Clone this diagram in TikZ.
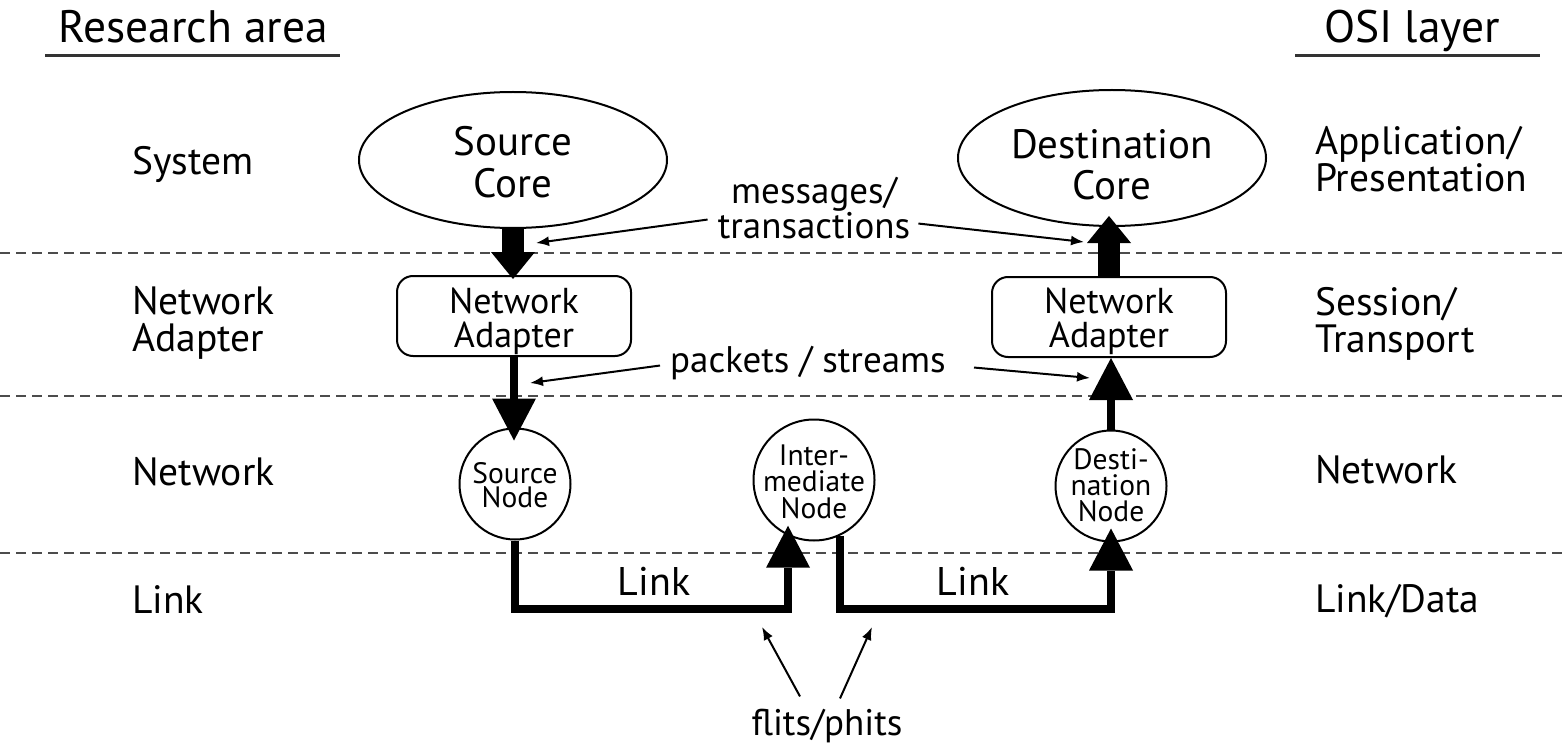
\documentclass[tikz,border=0pt]{standalone}
\usepackage{fontspec}
\setmainfont{PT Sans}
\usetikzlibrary{shapes.geometric,arrows.meta}
\newcommand{\fsz}[2]{\fontsize{#1}{#2}\selectfont}
\begin{document}
\begin{tikzpicture}[x=1pt,y=-1pt,
  lbl/.style={font=\fsz{39.5}{37}, align=left, anchor=base west, inner sep=0pt},
  hdr/.style={font=\fsz{45.5}{48}, anchor=base, inner sep=0pt},
  uline/.style={line width=3pt, black!80},
  layer/.style={dash pattern=on 10pt off 6pt, line width=2.6pt, black!70},
  core/.style={ellipse, draw, line width=2pt, minimum width=308pt, minimum height=136pt, inner sep=0pt},
  coretext/.style={font=\fsz{41}{41}, align=center, anchor=base, inner sep=0pt},
  adapter/.style={draw, rounded corners=16pt, line width=2pt, minimum width=234pt, minimum height=80pt, inner sep=0pt},
  adtext/.style={font=\fsz{36}{34}, align=center, anchor=base, inner sep=0pt},
  router/.style={circle, draw, line width=2pt, inner sep=0pt},
  rtext/.style={font=\fsz{29.5}{#1}, align=center, anchor=base, inner sep=0pt},
  ann/.style={font=\fsz{37}{35}, align=center, anchor=base, inner sep=0pt},
  linklbl/.style={font=\fsz{40}{40}, anchor=base, inner sep=0pt},
  bigflow/.style={line width=22pt, -{Triangle[width=44pt,length=27pt,line width=0pt]}},
  flow/.style={line width=8pt, line join=miter, -{Triangle[width=44pt,length=42pt,line width=0pt]}},
  thin/.style={line width=2pt, -{Latex[length=13pt,width=10pt]}},
]
\useasboundingbox (0,0) rectangle (1563,746);

% headers
\node[hdr] (ra) at (193,43) {Research area};
\draw[uline] (45,56) -- (340,56);
\node[hdr] (osi) at (1412,43) {OSI layer};
\draw[uline] (1295,56) -- (1540,56);

% layer separators
\draw[layer] (0,253) -- (1563,253);
\draw[layer] (0,396) -- (1563,396);
\draw[layer] (0,553) -- (1563,553);

% left labels (anchor = baseline of last line)
\node[lbl] (sys) at (132,175) {System};
\node[lbl] (nal) at (132,351) {Network\\Adapter};
\node[lbl] (netl) at (132,485) {Network};
\node[lbl] (linkl) at (132,613) {Link};
% right labels
\node[lbl] (app) at (1315,192) {Application/\\Presentation};
\node[lbl] (sess) at (1315,352) {Session/\\Transport};
\node[lbl] (netr) at (1315,483) {Network};
\node[lbl] (ld) at (1315,612) {Link/Data};

% cores
\node[core] (score) at (513,160) {};
\node[coretext] (scoret) at (513,197) {Source\\Core};
\node[core] (dcore) at (1112,158) {};
\node[coretext] (dcoret) at (1112,200) {Destination\\Core};

% adapters
\node[adapter] (lna) at (514,316) {};
\node[adtext] (lnat) at (514,347) {Network\\Adapter};
\node[adapter] (rna) at (1109,317) {};
\node[adtext] (rnat) at (1109,347) {Network\\Adapter};

% routers
\node[router, minimum size=111pt] (snode) at (515,484) {};
\node[rtext=24] (snodet) at (515,507) {Source\\Node};
\node[router, minimum size=121pt] (inode) at (814,480) {};
\node[rtext=26.5] (inodet) at (814,518) {Inter-\\mediate\\Node};
\node[router, minimum size=111pt] (dnode) at (1111,486) {};
\node[rtext=26] (dnodet) at (1111,521) {Desti-\\nation\\Node};

% flows
\draw[bigflow, shorten >=-4pt] (score.south) -- (score.south |- lna.north);
\draw[bigflow, shorten >=-11pt] (rna.north) -- (rna.north |- dcore.south);
\draw[flow, shorten >=-13pt] (lna.south) -- (lna.south |- snode.north);
\draw[flow] (dnode.north) -- (dnode.north |- rna.south);

\coordinate (linky) at (0,609);
\draw[flow, shorten >=-10pt] (snode.south) -- (snode.south |- linky) -| (inode.245);
\draw[flow, shorten >=-14pt] (inode.295) -- (inode.295 |- linky) -| (dnode.south);
\node[linklbl] (link1) at (654,595) {Link};
\node[linklbl] (link2) at (973,595) {Link};

% annotations
\node[ann] (msg) at (814,238) {messages/\\transactions};
\coordinate (mtipL) at (536,243);
\coordinate (mtipR) at (1084,242);
\draw[thin] ([xshift=-10pt,yshift=-12pt]msg.west) -- (mtipL);
\draw[thin] ([xshift=8pt,yshift=-16pt]msg.east) -- (mtipR);

\node[ann] (pk) at (808,372) {packets / streams};
\coordinate (ptipL) at (530,383);
\coordinate (ptipR) at (1090,378);
\draw[thin] ([xshift=-10pt,yshift=-3pt]pk.west) -- (ptipL);
\draw[thin] ([xshift=28pt,yshift=-5pt]pk.east) -- (ptipR);

\node[ann] (fl) at (827,735) {flits/phits};
\coordinate (ftipL) at (762,627);
\coordinate (ftipR) at (872,627);
\draw[thin] ([xshift=-27pt,yshift=12pt]fl.north) -- (ftipL);
\draw[thin] ([xshift=13pt,yshift=10pt]fl.north) -- (ftipR);
\end{tikzpicture}
\end{document}
